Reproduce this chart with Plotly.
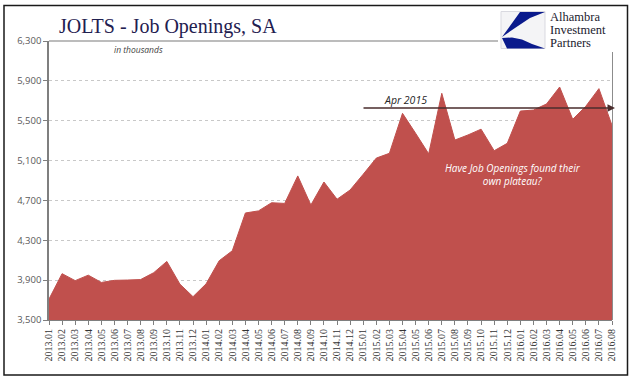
import plotly.graph_objects as go

months = ["2013.01","2013.02","2013.03","2013.04","2013.05","2013.06","2013.07","2013.08","2013.09","2013.10","2013.11","2013.12",
          "2014.01","2014.02","2014.03","2014.04","2014.05","2014.06","2014.07","2014.08","2014.09","2014.10","2014.11","2014.12",
          "2015.01","2015.02","2015.03","2015.04","2015.05","2015.06","2015.07","2015.08","2015.09","2015.10","2015.11","2015.12",
          "2016.01","2016.02","2016.03","2016.04","2016.05","2016.06","2016.07","2016.08"]
openings = [3710, 3965, 3895, 3950, 3877, 3898, 3901, 3906, 3975, 4088, 3860, 3734,
            3863, 4095, 4195, 4574, 4595, 4677, 4670, 4946, 4654, 4885, 4712, 4805,
            4963, 5125, 5173, 5574, 5374, 5168, 5775, 5306, 5357, 5415, 5199, 5273,
            5597, 5607, 5668, 5838, 5514, 5645, 5822, 5453]
y_ticks = [3500, 3900, 4300, 4700, 5100, 5500, 5900, 6300]

W, H = 640, 387
L, R, T, B = 49, 28, 41, 67
PW, PH = W - L - R, H - T - B

def px(x):
    return (x - L) / PW

def py(y):
    return (H - B - y) / PH

def path(points, close=True):
    s = "M " + " L ".join(f"{px(a):.5f},{py(b):.5f}" for a, b in points)
    return s + (" Z" if close else "")

fig = go.Figure()
fig.add_trace(go.Scatter(
    x=months, y=openings, mode="lines", fill="tozeroy",
    line=dict(color="#C0504D", width=1), fillcolor="#C0504D",
    hoverinfo="skip", showlegend=False))

fig.update_layout(
    width=W, height=H,
    margin=dict(l=L, r=R, t=T, b=B, autoexpand=False),
    paper_bgcolor="white", plot_bgcolor="white",
    xaxis=dict(type="category", range=[0, len(months) - 1], tickangle=-90,
               tickfont=dict(family="Liberation Serif", size=10, color="#333333"),
               ticks="outside", ticklen=4, tickcolor="#7f7f7f",
               showline=True, linecolor="#7f7f7f", linewidth=1, showgrid=False,
               automargin=False),
    yaxis=dict(range=[3500, 6300], tickvals=y_ticks,
               ticktext=[f"{v:,}" for v in y_ticks],
               tickfont=dict(family="Open Sans", size=9.5, color="#595959"),
               ticks="outside", ticklen=4, tickcolor="#7f7f7f",
               showline=True, linecolor="#7f7f7f", linewidth=1.5,
               showgrid=True, gridcolor="#c8c8c8", griddash="dot", gridwidth=1,
               zeroline=False, automargin=False),
)

shapes = []
# top line at 6300
shapes.append(dict(type="line", xref="paper", yref="paper", x0=px(49), x1=px(498), y0=py(41), y1=py(41),
                   line=dict(color="#a6a6a6", width=1.5), layer="above"))
# logo white background
shapes.append(dict(type="rect", xref="paper", yref="paper", x0=px(498), x1=px(620), y0=py(8), y1=py(50.5),
                   fillcolor="white", line=dict(width=0), layer="above"))
# right vertical line
shapes.append(dict(type="line", xref="paper", yref="paper", x0=px(612.5), x1=px(612.5), y0=py(52), y1=py(320),
                   line=dict(color="#8c8c8c", width=1), layer="above"))
# logo square
shapes.append(dict(type="rect", xref="paper", yref="paper", x0=px(501), x1=px(545), y0=py(11.5), y1=py(48.5),
                   fillcolor="#f4f4f6", line=dict(color="#d9d9e0", width=1), layer="above"))
# logo blue shapes
shapes.append(dict(type="path", xref="paper", yref="paper",
                   path=path([(520, 12), (545, 12), (530, 18), (515, 28), (502, 37)]),
                   fillcolor="#0a1a8c", line=dict(width=0), layer="above"))
shapes.append(dict(type="path", xref="paper", yref="paper",
                   path=path([(502, 38), (512, 37.5), (522, 39.5), (532, 44), (545, 48.5), (507, 48.5)]),
                   fillcolor="#0a1a8c", line=dict(width=0), layer="above"))
# outer frame
shapes.append(dict(type="rect", xref="paper", yref="paper", x0=px(4), x1=px(627.5), y0=py(5.5), y1=py(375),
                   fillcolor="rgba(0,0,0,0)", line=dict(color="#1a1a1a", width=1.5), layer="above"))
fig.update_layout(shapes=shapes)

ann = []
ann.append(dict(text="JOLTS - Job Openings, SA", xref="paper", yref="paper", x=px(57), y=py(26),
                xanchor="left", yanchor="middle", showarrow=False,
                font=dict(family="Liberation Serif", size=20, color="#1f2050")))
ann.append(dict(text="<i>in thousands</i>", xref="paper", yref="paper", x=px(112), y=py(49),
                xanchor="left", yanchor="middle", showarrow=False,
                font=dict(family="Open Sans", size=8.5, color="#404040")))
for txt, yy in [("Alhambra", 16.5), ("Investment", 29.5), ("Partners", 42.5)]:
    ann.append(dict(text=txt, xref="paper", yref="paper", x=px(547.5), y=py(yy),
                    xanchor="left", yanchor="middle", showarrow=False,
                    font=dict(family="Liberation Serif", size=12.5, color="#1a1a2e")))
# arrow
ann.append(dict(text="", xref="paper", yref="paper", x=px(615), y=py(108),
                ax=-(615 - 362), ay=0, showarrow=True, arrowhead=2, arrowsize=1,
                arrowwidth=1.5, arrowcolor="#4a2c2c"))
ann.append(dict(text="<i>Apr 2015</i>", xref="paper", yref="paper", x=px(405), y=py(100),
                xanchor="center", yanchor="middle", showarrow=False,
                font=dict(family="Open Sans", size=10.5, color="#262626")))
ann.append(dict(text="<i>Have Job Openings found their<br>own plateau?</i>", xref="paper", yref="paper",
                x=px(513), y=py(174.5), xanchor="center", yanchor="middle", showarrow=False,
                font=dict(family="Open Sans", size=10, color="white")))
fig.update_layout(annotations=ann)

fig.write_html("out.html", config={"displayModeBar": False},
               post_script="document.body.style.margin='0';document.body.style.overflow='hidden';")
